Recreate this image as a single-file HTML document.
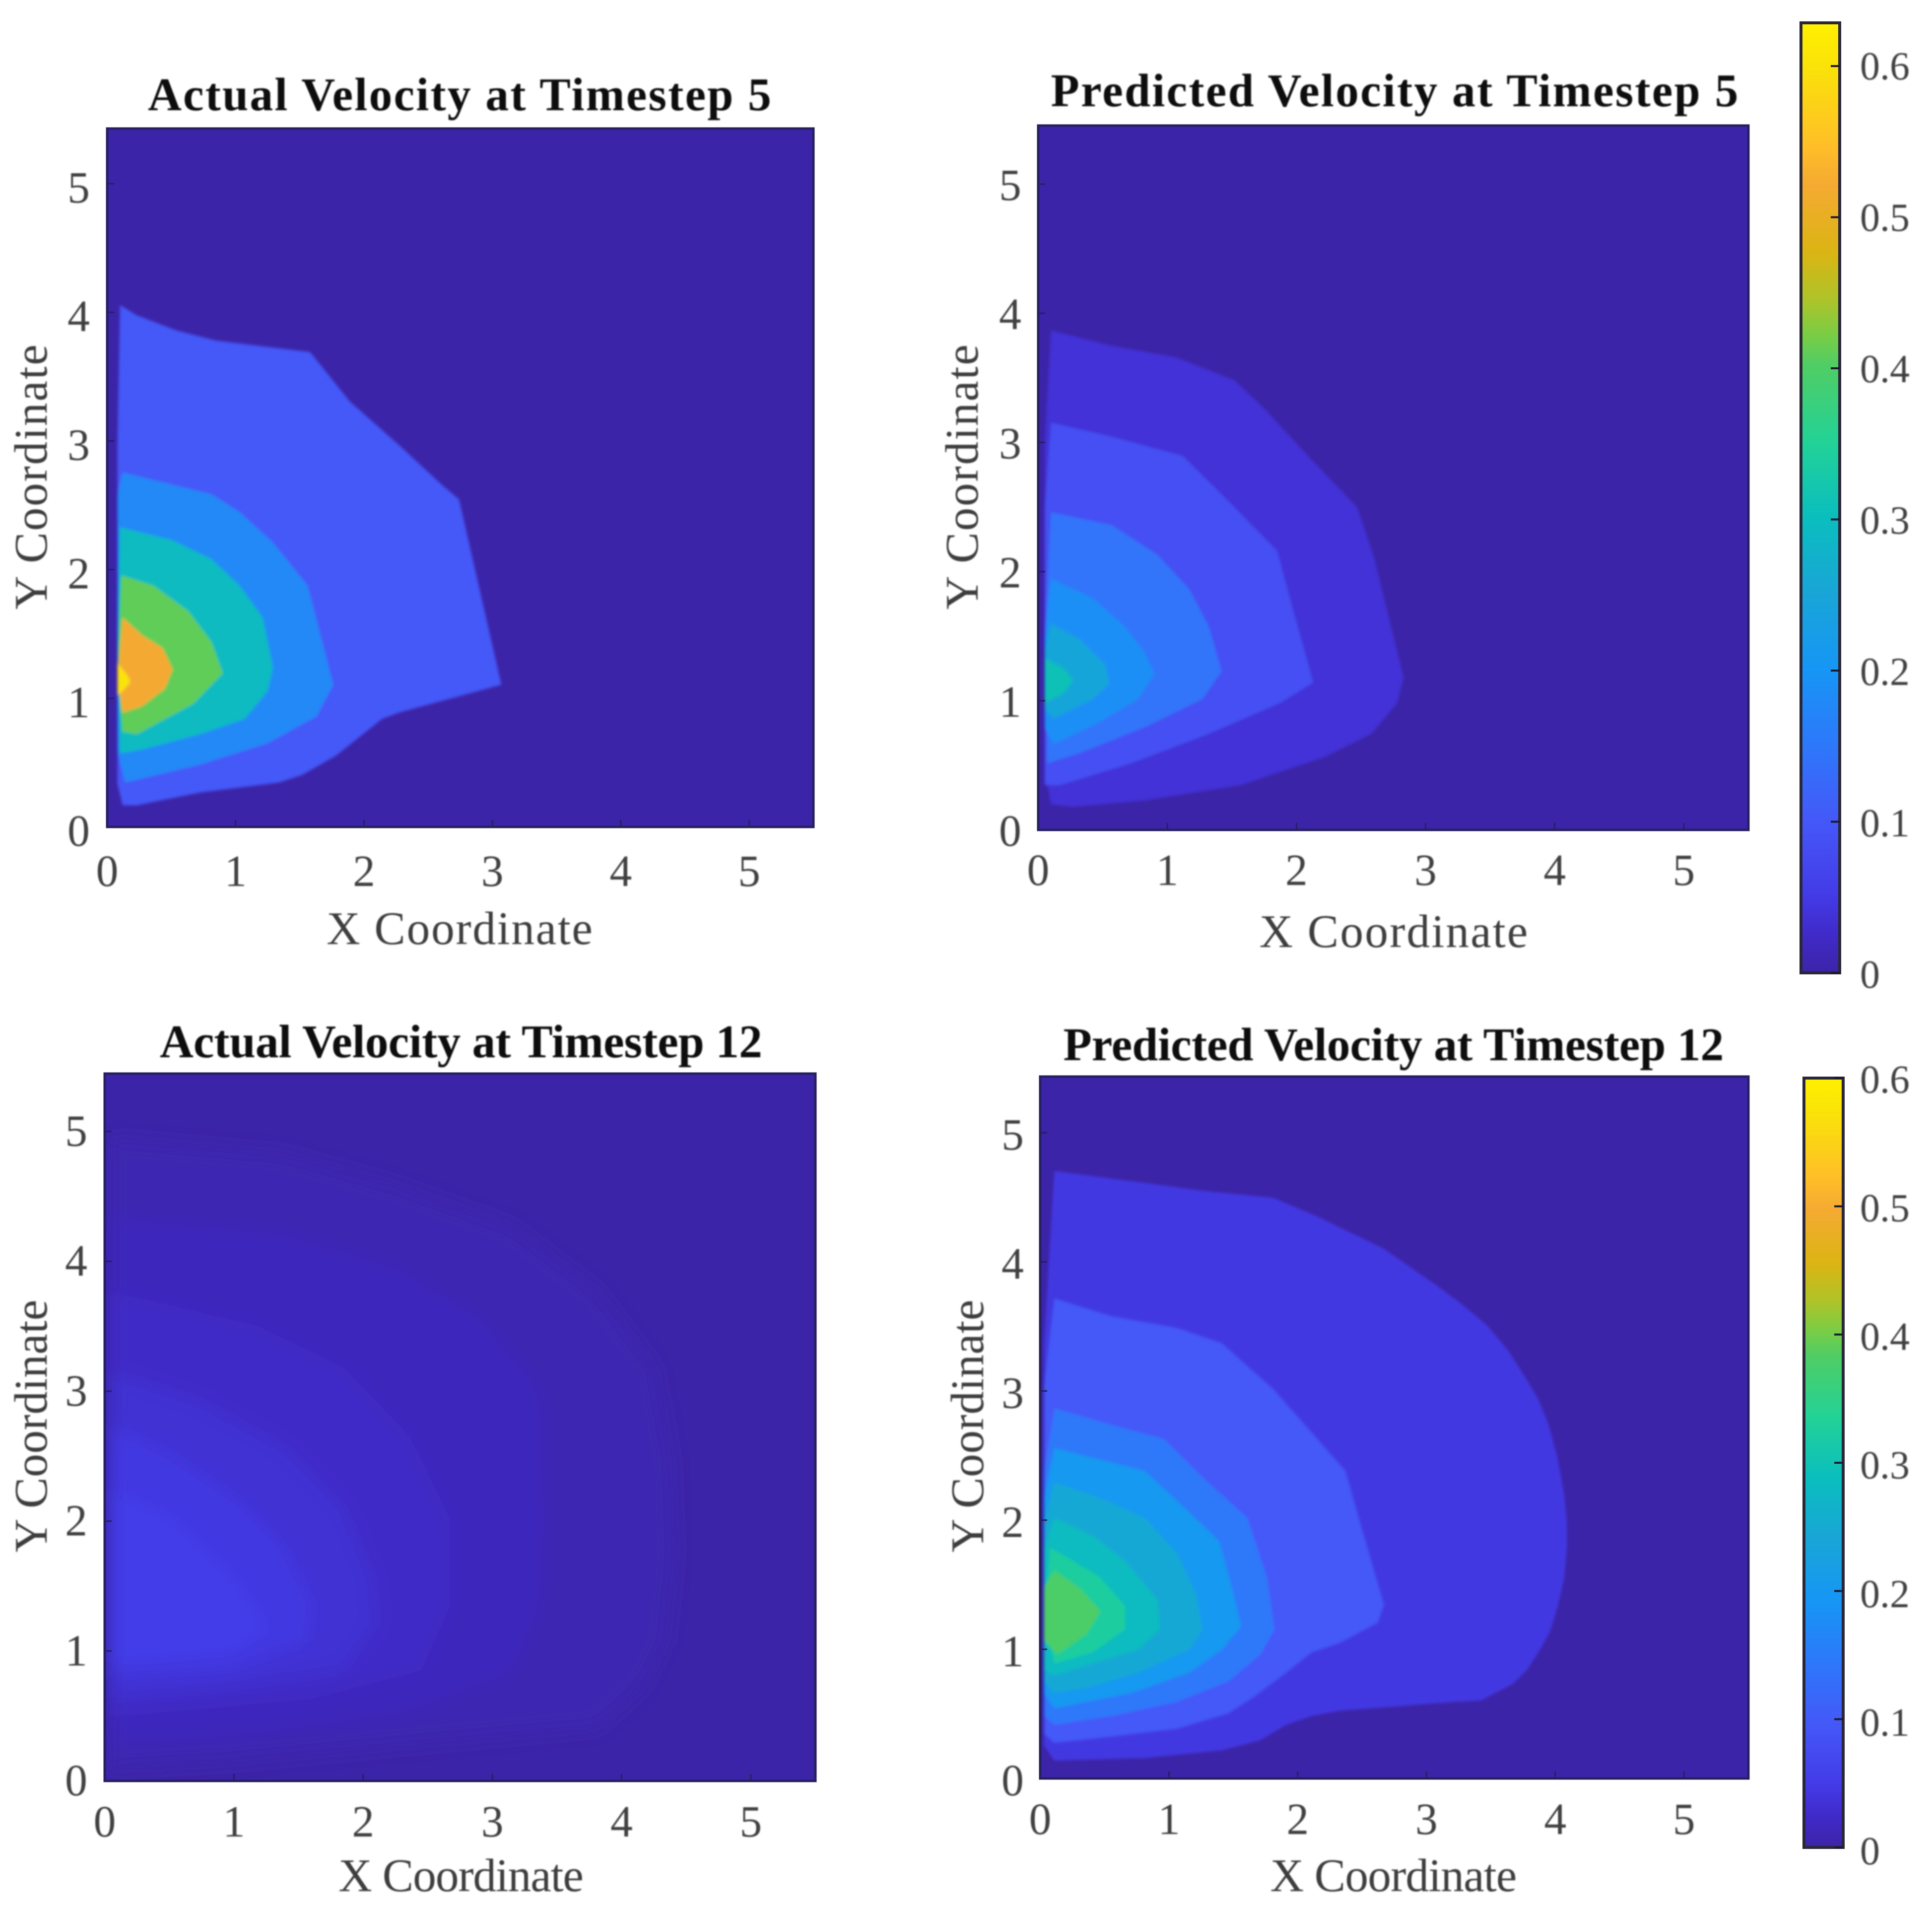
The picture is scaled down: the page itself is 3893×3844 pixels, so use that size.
<!DOCTYPE html>
<html lang="en">
<head>
<meta charset="utf-8">
<title>Actual and Predicted Velocity</title>
<style>
html,body{margin:0;padding:0;background:#fff}
svg{display:block}
text{font-family:"Liberation Serif","Times New Roman",serif}
.title{font-weight:bold;font-size:94px;fill:#0c0c0c;text-anchor:middle}
.axlabel{font-size:94px;fill:#3c3c3c;text-anchor:middle}
.tick{font-size:90px;fill:#404040}
.cbtick{font-size:80px;fill:#404040}
</style>
</head>
<body>
<svg id="figure" xmlns="http://www.w3.org/2000/svg" width="3893" height="3844" viewBox="0 0 3893 3844">
  <defs>
    <filter id="soft" x="-5%" y="-5%" width="110%" height="110%"><feGaussianBlur stdDeviation="3"/></filter>
    <filter id="softer" x="-5%" y="-5%" width="110%" height="110%"><feGaussianBlur stdDeviation="18"/></filter>
    <filter id="textsoft" x="-5%" y="-20%" width="110%" height="140%"><feGaussianBlur stdDeviation="1.2"/></filter>
    <linearGradient id="colormap-gradient" x1="0" y1="1" x2="0" y2="0"></linearGradient>
  </defs>
  <rect x="0" y="0" width="3893" height="3844" fill="#ffffff"/>
  <g id="marks"></g>
  <g id="labels" filter="url(#textsoft)">
    <text class="title" x="926" y="222" textLength="1256">Actual Velocity at Timestep 5</text>
    <text class="title" x="2810" y="214" textLength="1385">Predicted Velocity at Timestep 5</text>
    <text class="title" x="929" y="2130" textLength="1214">Actual Velocity at Timestep 12</text>
    <text class="title" x="2808" y="2136" textLength="1331">Predicted Velocity at Timestep 12</text>
    <text class="axlabel" x="926" y="1902" textLength="536">X Coordinate</text>
    <text class="axlabel" x="2808" y="1908" textLength="541">X Coordinate</text>
    <text class="axlabel" x="929" y="3810" textLength="494">X Coordinate</text>
    <text class="axlabel" x="2808" y="3810" textLength="497">X Coordinate</text>
    <text class="axlabel" transform="translate(94 961) rotate(-90)" textLength="534">Y Coordinate</text>
    <text class="axlabel" transform="translate(1970 961) rotate(-90)" textLength="534">Y Coordinate</text>
    <text class="axlabel" transform="translate(94 2873) rotate(-90)" textLength="509">Y Coordinate</text>
    <text class="axlabel" transform="translate(1981 2873) rotate(-90)" textLength="509">Y Coordinate</text>
  </g>
</svg>
<script>
// ---- shared axis data ----
const axisTicks = [0, 1, 2, 3, 4, 5];
const axisMax = 5.5;
const colorbarTicks = [0, 0.1, 0.2, 0.3, 0.4, 0.5, 0.6];
const colorbarLabels = ["0", "0.1", "0.2", "0.3", "0.4", "0.5", "0.6"];
const colorbarMaxTop = 0.6286;
const colorbarMaxBottom = 0.6;

// ---- Actual Velocity at Timestep 5 ----
const actual5Levels = [0.10, 0.18, 0.295, 0.41, 0.52, 0.60];
const actual5Band1 = [[.10,4.11],[.23,4.03],[.54,3.91],[.85,3.83],[1.25,3.78],[1.58,3.74],[1.89,3.35],[2.27,3.01],[2.60,2.70],[2.74,2.58],[3.07,1.12],[2.27,.90],[2.14,.85],[1.78,.56],[1.52,.41],[1.34,.35],[.72,.27],[.23,.17],[.12,.17],[.08,.34],[.08,3.01]];
const actual5Band2 = [[.12,2.79],[.81,2.62],[1.03,2.48],[1.29,2.24],[1.56,1.90],[1.65,1.55],[1.76,1.12],[1.63,.87],[1.25,.66],[.72,.49],[.14,.35],[.08,.6],[.08,2.62]];
const actual5Band3 = [[.10,2.36],[.50,2.26],[.81,2.11],[1.03,1.90],[1.21,1.65],[1.29,1.26],[1.25,1.07],[1.07,.85],[.72,.73],[.27,.61],[.10,.58],[.08,1.4]];
const actual5Band4 = [[.11,1.98],[.36,1.90],[.63,1.70],[.81,1.46],[.90,1.21],[.67,.97],[.23,.73],[.12,.75],[.08,1.2]];
const actual5Band5 = [[.12,1.65],[.27,1.51],[.43,1.41],[.51,1.24],[.45,1.09],[.27,.95],[.12,.90],[.08,1.17]];
const actual5Band6 = [[.08,1.29],[.16,1.19],[.18,1.14],[.12,1.07],[.08,1.04]];
const actual5Bands = [actual5Band1, actual5Band2, actual5Band3, actual5Band4, actual5Band5, actual5Band6];

// ---- Predicted Velocity at Timestep 5 ----
const predicted5Levels = [0.038, 0.088, 0.145, 0.19, 0.25, 0.31];
const predicted5Band1 = [[.10,3.90],[.57,3.78],[1.07,3.69],[1.52,3.51],[1.77,3.27],[2.07,2.94],[2.47,2.52],[2.60,2.13],[2.83,1.19],[2.78,.99],[2.58,.75],[2.22,.57],[1.57,.35],[.82,.23],[.27,.18],[.10,.20],[.05,.45],[.05,3.02]];
const predicted5Band2 = [[.10,3.18],[.57,3.07],[1.12,2.92],[1.47,2.57],[1.85,2.18],[1.97,1.73],[2.13,1.15],[1.87,.99],[1.32,.75],[.72,.52],[.17,.35],[.05,.35],[.05,2.5]];
const predicted5Band3 = [[.10,2.48],[.57,2.38],[.92,2.15],[1.17,1.88],[1.32,1.59],[1.42,1.24],[1.27,1.02],[.82,.80],[.32,.60],[.07,.52],[.05,1.5]];
const predicted5Band4 = [[.10,1.96],[.42,1.81],[.67,1.59],[.82,1.39],[.90,1.22],[.77,1.02],[.47,.84],[.12,.67],[.05,.80],[.05,1.5]];
const predicted5Band5 = [[.10,1.61],[.32,1.49],[.52,1.29],[.55,1.14],[.42,1.02],[.12,.87],[.05,.94],[.05,1.4]];
const predicted5Band6 = [[.05,1.34],[.20,1.26],[.27,1.17],[.20,1.07],[.05,.99]];
const predicted5Bands = [predicted5Band1, predicted5Band2, predicted5Band3, predicted5Band4, predicted5Band5, predicted5Band6];

// ---- Actual Velocity at Timestep 12 ----
const actual12Levels = [0.007, 0.014, 0.023, 0.033, 0.045, 0.055];
const actual12Band1 = [[.03,5.00],[1.39,4.88],[2.28,4.63],[3.16,4.31],[3.82,3.81],[4.26,3.22],[4.39,2.50],[4.42,1.77],[4.35,1.09],[4.17,.73],[3.82,.41],[2.28,.27],[.95,.14],[.03,.09]];
const actual12Band2 = [[.03,4.40],[1.39,4.27],[2.28,4.00],[2.94,3.59],[3.38,3.04],[3.42,2.04],[3.38,1.36],[3.16,.82],[2.28,.50],[.95,.32],[.03,.27]];
const actual12Band3 = [[.03,3.81],[1.17,3.54],[1.84,3.22],[2.36,2.68],[2.67,2.04],[2.67,1.36],[2.45,.86],[1.61,.64],[.03,.50]];
const actual12Band4 = [[.03,3.18],[.73,2.95],[1.39,2.59],[1.84,2.13],[2.06,1.59],[2.10,1.23],[1.84,.86],[.95,.73],[.03,.64]];
const actual12Band5 = [[.03,2.77],[.51,2.54],[1.04,2.18],[1.39,1.82],[1.61,1.36],[1.57,1.09],[.95,.86],[.03,.82]];
const actual12Band6 = [[.03,2.27],[.51,2.04],[.95,1.63],[1.26,1.18],[.95,1.00],[.03,.91]];
const actual12Bands = [actual12Band1, actual12Band2, actual12Band3, actual12Band4, actual12Band5, actual12Band6];

// ---- Predicted Velocity at Timestep 12 ----
const predicted12Levels = [0.045, 0.096, 0.144, 0.20, 0.245, 0.285, 0.325, 0.38];
const predicted12Band1 = [[.11,4.76],[.56,4.70],[1.31,4.60],[1.81,4.55],[2.16,4.40],[2.67,4.15],[3.07,3.87],[3.27,3.72],[3.47,3.55],[3.63,3.36],[3.77,3.14],[3.87,2.97],[3.95,2.77],[4.02,2.50],[4.07,2.22],[4.09,2.00],[4.09,1.81],[4.07,1.57],[4.02,1.35],[3.96,1.15],[3.87,.99],[3.78,.85],[3.67,.74],[3.42,.61],[3.22,.60],[2.32,.53],[2.11,.49],[1.91,.42],[1.71,.30],[1.41,.22],[.81,.16],[.11,.14],[.03,.26],[.03,3.41]];
const predicted12Band2 = [[.11,3.76],[.56,3.62],[1.06,3.53],[1.41,3.41],[1.81,3.05],[2.37,2.41],[2.47,2.05],[2.67,1.36],[2.62,1.22],[2.32,1.06],[2.11,.99],[1.91,.83],[1.66,.64],[1.46,.51],[1.06,.39],[.56,.33],[.11,.28],[.03,.35],[.03,3.08]];
const predicted12Band3 = [[.11,2.90],[.56,2.77],[.96,2.66],[1.26,2.36],[1.61,2.04],[1.76,1.58],[1.82,1.17],[1.71,.97],[1.46,.76],[1.06,.60],[.56,.49],[.11,.42],[.03,.49],[.03,2.4]];
const predicted12Band4 = [[.11,2.59],[.46,2.50],[.81,2.41],[1.11,2.13],[1.39,1.86],[1.49,1.49],[1.56,1.19],[1.41,1.01],[1.16,.83],[.71,.67],[.11,.55],[.03,.67],[.03,2.2]];
const predicted12Band5 = [[.11,2.32],[.51,2.18],[.81,2.04],[1.06,1.77],[1.21,1.45],[1.26,1.17],[1.16,1.01],[.76,.83],[.36,.71],[.11,.67],[.03,.76],[.03,2.0]];
const predicted12Band6 = [[.11,2.04],[.41,1.90],[.66,1.70],[.91,1.40],[.93,1.17],[.76,1.01],[.11,.81],[.03,.85],[.03,1.8]];
const predicted12Band7 = [[.08,1.81],[.46,1.58],[.66,1.35],[.66,1.17],[.41,.99],[.11,.90],[.03,1.3]];
const predicted12Band8 = [[.11,1.63],[.31,1.49],[.47,1.31],[.36,1.13],[.13,.97],[.03,1.08],[.03,1.5]];
const predicted12Bands = [predicted12Band1, predicted12Band2, predicted12Band3, predicted12Band4, predicted12Band5, predicted12Band6, predicted12Band7, predicted12Band8];

// ---- drawing ----
const NS = "http://www.w3.org/2000/svg";
const marks = document.getElementById("marks");
const labelLayer = document.getElementById("labels");
const defsEl = document.querySelector("#figure defs");
const gradientEl = document.getElementById("colormap-gradient");

function colormapTable() {
  return [
    [0, 60, 36, 168], [.04, 64, 42, 200], [.08, 67, 58, 230], [.16, 68, 88, 248],
    [.24, 45, 120, 250], [.32, 22, 150, 245], [.40, 25, 165, 215], [.48, 10, 190, 190],
    [.56, 35, 210, 150], [.64, 80, 205, 100], [.67, 120, 205, 70], [.71, 175, 195, 40],
    [.76, 220, 180, 20], [.83, 245, 170, 50], [.87, 255, 190, 40], [.95, 250, 225, 10], [1, 255, 240, 0]
  ];
}

function colormap(t) {
  const table = colormapTable();
  const v = Math.max(0, Math.min(1, t));
  let i = 0;
  while (i < table.length - 2 && v > table[i + 1][0]) i++;
  const a = table[i];
  const b = table[i + 1];
  const f = (v - a[0]) / (b[0] - a[0]);
  return "rgb(" + [1, 2, 3].map(function (k) { return Math.round(a[k] + (b[k] - a[k]) * f); }).join(",") + ")";
}

colormapTable().forEach(function (row) {
  const stop = document.createElementNS(NS, "stop");
  stop.setAttribute("offset", row[0]);
  stop.setAttribute("stop-color", "rgb(" + row[1] + "," + row[2] + "," + row[3] + ")");
  gradientEl.appendChild(stop);
});

function linearScale(domainMax, start, end) {
  return function (v) { return start + (v / domainMax) * (end - start); };
}

function drawPanel(opts) {
  const xAt = linearScale(axisMax, opts.left, opts.right);
  const yAt = linearScale(axisMax, opts.bottom, opts.top);
  const yTickAt = function (t) { return opts.bottom - t * opts.yTickStep; };
  const w = opts.right - opts.left;
  const h = opts.bottom - opts.top;

  const clip = document.createElementNS(NS, "clipPath");
  clip.setAttribute("id", "clip-" + opts.name);
  const clipRect = document.createElementNS(NS, "rect");
  clipRect.setAttribute("x", opts.left);
  clipRect.setAttribute("y", opts.top);
  clipRect.setAttribute("width", w);
  clipRect.setAttribute("height", h);
  clip.appendChild(clipRect);
  defsEl.appendChild(clip);

  const panel = document.createElementNS(NS, "g");
  
  
  panel.setAttribute("clip-path", "url(#clip-" + opts.name + ")");
  marks.appendChild(panel);

  const bg = document.createElementNS(NS, "rect");
  
  
  bg.setAttribute("x", opts.left);
  bg.setAttribute("y", opts.top);
  bg.setAttribute("width", w);
  bg.setAttribute("height", h);
  bg.setAttribute("fill", colormap(0));
  panel.appendChild(bg);

  const bandGroup = document.createElementNS(NS, "g");
  bandGroup.setAttribute("filter", "url(#" + opts.filter + ")");
  panel.appendChild(bandGroup);

  opts.bands.forEach(function (band, i) {
    const poly = document.createElementNS(NS, "polygon");
    
    
    poly.setAttribute("points", band.map(function (p) {
      return xAt(p[0]).toFixed(1) + "," + yAt(p[1]).toFixed(1);
    }).join(" "));
    poly.setAttribute("fill", colormap(opts.levels[i] / opts.clim));
    bandGroup.appendChild(poly);
  });

  const frame = document.createElementNS(NS, "rect");
  
  
  frame.setAttribute("x", opts.left);
  frame.setAttribute("y", opts.top);
  frame.setAttribute("width", w);
  frame.setAttribute("height", h);
  frame.setAttribute("fill", "none");
  frame.setAttribute("stroke", "#262060");
  frame.setAttribute("stroke-width", "5");
  marks.appendChild(frame);

  axisTicks.forEach(function (t) {
    const xTick = document.createElementNS(NS, "line");
    
    
    xTick.setAttribute("x1", xAt(t));
    xTick.setAttribute("x2", xAt(t));
    xTick.setAttribute("y1", opts.bottom);
    xTick.setAttribute("y2", opts.bottom - 14);
    xTick.setAttribute("stroke", "#262060");
    xTick.setAttribute("stroke-width", "3");
    marks.appendChild(xTick);

    const yTick = document.createElementNS(NS, "line");
    
    
    yTick.setAttribute("x1", opts.left);
    yTick.setAttribute("x2", opts.left + 14);
    yTick.setAttribute("y1", yTickAt(t));
    yTick.setAttribute("y2", yTickAt(t));
    yTick.setAttribute("stroke", "#262060");
    yTick.setAttribute("stroke-width", "3");
    marks.appendChild(yTick);

    const xLabel = document.createElementNS(NS, "text");
    
    
    xLabel.setAttribute("class", "tick");
    xLabel.setAttribute("text-anchor", "middle");
    xLabel.setAttribute("x", xAt(t));
    xLabel.setAttribute("y", opts.xTickBaseline);
    xLabel.textContent = String(t);
    labelLayer.appendChild(xLabel);

    const yLabel = document.createElementNS(NS, "text");
    
    
    yLabel.setAttribute("class", "tick");
    yLabel.setAttribute("text-anchor", "end");
    yLabel.setAttribute("x", opts.yTickRight);
    yLabel.setAttribute("y", opts.yLabelZero - t * opts.yTickStep);
    yLabel.textContent = String(t);
    labelLayer.appendChild(yLabel);
  });
}

function drawColorbar(opts) {
  const yAt = linearScale(opts.max, opts.bottom, opts.top);
  const bar = document.createElementNS(NS, "rect");
  
  
  bar.setAttribute("x", opts.left);
  bar.setAttribute("y", opts.top);
  bar.setAttribute("width", opts.right - opts.left);
  bar.setAttribute("height", opts.bottom - opts.top);
  bar.setAttribute("fill", "url(#colormap-gradient)");
  bar.setAttribute("stroke", "#2a2838");
  bar.setAttribute("stroke-width", "6");
  marks.appendChild(bar);

  colorbarTicks.forEach(function (t, i) {
    const tick = document.createElementNS(NS, "line");
    
    
    tick.setAttribute("x1", opts.right - 18);
    tick.setAttribute("x2", opts.right);
    tick.setAttribute("y1", yAt(t));
    tick.setAttribute("y2", yAt(t));
    tick.setAttribute("stroke", "#1c1a30");
    tick.setAttribute("stroke-width", "4");
    marks.appendChild(tick);

    const label = document.createElementNS(NS, "text");
    
    
    label.setAttribute("class", "cbtick");
    label.setAttribute("x", opts.labelX);
    label.setAttribute("y", opts.labelZero - (t / 0.1) * opts.labelStep);
    label.textContent = colorbarLabels[i];
    labelLayer.appendChild(label);
  });
}

drawPanel({name: "actual-5", left: 216, right: 1639, top: 259, bottom: 1666, bands: actual5Bands, levels: actual5Levels, clim: 0.6286, filter: "soft", xTickBaseline: 1785, yTickRight: 181, yLabelZero: 1704, yTickStep: 259.2});
drawPanel({name: "predicted-5", left: 2092, right: 3523, top: 253, bottom: 1672, bands: predicted5Bands, levels: predicted5Levels, clim: 0.6286, filter: "soft", xTickBaseline: 1783, yTickRight: 2058, yLabelZero: 1704, yTickStep: 260.2});
drawPanel({name: "actual-12", left: 211, right: 1643, top: 2163, bottom: 3588, bands: actual12Bands, levels: actual12Levels, clim: 0.6, filter: "softer", xTickBaseline: 3700, yTickRight: 176, yLabelZero: 3617, yTickStep: 261.7});
drawPanel({name: "predicted-12", left: 2096, right: 3523, top: 2169, bottom: 3583, bands: predicted12Bands, levels: predicted12Levels, clim: 0.6, filter: "soft", xTickBaseline: 3695, yTickRight: 2063, yLabelZero: 3617, yTickStep: 260.2});

drawColorbar({name: "top", left: 3629, right: 3707, top: 46, bottom: 1960, max: colorbarMaxTop, labelX: 3748, labelZero: 1990, labelStep: 305});
drawColorbar({name: "bottom", left: 3635, right: 3714, top: 2172, bottom: 3722, max: colorbarMaxBottom, labelX: 3748, labelZero: 3756, labelStep: 259.1});
</script>
</body>
</html>
